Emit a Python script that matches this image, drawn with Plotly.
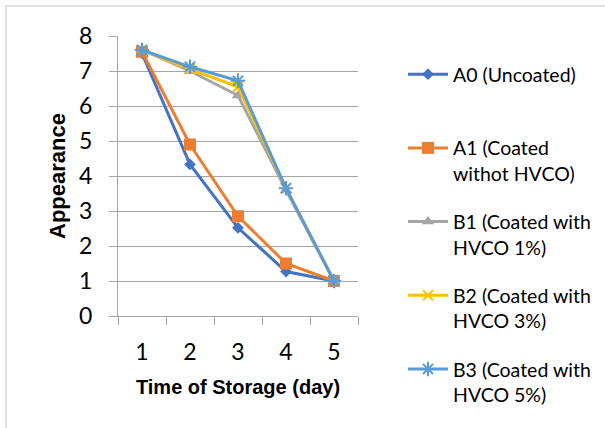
import plotly.graph_objects as go

days = ["1", "2", "3", "4", "5"]
a0 = [7.5, 4.33, 2.52, 1.27, 1.0]
a1 = [7.55, 4.9, 2.85, 1.5, 1.0]
b1 = [7.6, 7.0, 6.3, 3.6, 1.0]
b2 = [7.6, 7.05, 6.55, 3.65, 1.0]
b3 = [7.6, 7.12, 6.72, 3.65, 1.0]

names = ["A0 (Uncoated)<br> ", "A1 (Coated<br>withot HVCO)", "B1 (Coated with<br>HVCO 1%)",
         "B2 (Coated with<br>HVCO 3%)", "B3 (Coated with<br>HVCO 5%)"]
colors = ["#4472C4", "#ED7D31", "#A5A5A5", "#FFC000", "#5B9BD5"]
symbols = ["diamond", "square", "triangle-up", "x-thin", "asterisk"]
sizes = [9, 12, 11, 10, 12]
series = [a0, a1, b1, b2, b3]

fig = go.Figure()
for i, (vals, nm, c, s, sz) in enumerate(zip(series, names, colors, symbols, sizes)):
    thin = s in ("x-thin", "asterisk")
    fig.add_trace(go.Scatter(
        x=days, y=vals, name=nm, mode="lines+markers",
        line=dict(color=c, width=3),
        marker=dict(symbol=s, size=sz, color=c,
                    line=dict(color=c, width=2 if thin else 0)),
        legendgroup=str(i),
    ))

W, H = 605, 428
L, R, T, B = 118, 358, 36, 316
def px2x(p):
    return (p - L) / (R - L)
def py2y(p):
    return (B - p) / (B - T)

grid = "#A6A6A6"
fig.update_layout(
    width=W, height=H,
    margin=dict(l=L, r=W - R, t=T, b=H - B, pad=0, autoexpand=False),
    paper_bgcolor="white", plot_bgcolor="white",
    font=dict(family="Lato, Noto Sans, sans-serif", color="black"),
    showlegend=True,
    legend=dict(x=px2x(403), y=py2y(55), xanchor="left", yanchor="top",
                font=dict(size=19.5, family="Lato, Noto Sans, sans-serif"),
                valign="top", tracegroupgap=20, bgcolor="rgba(0,0,0,0)",
                itemwidth=40, maxheight=400),
    xaxis=dict(type="category", range=[-0.5, 4.5], showgrid=False, showline=True,
               linecolor=grid, linewidth=1,
               ticks="outside", ticklen=8, tickcolor=grid, tickson="boundaries",
               tickfont=dict(size=23), ticklabelstandoff=15,
               title=dict(text="<b>Time of Storage (day)</b>",
                          font=dict(size=20, family="Liberation Sans, Arial, sans-serif"),
                          standoff=16)),
    yaxis=dict(range=[0, 8], dtick=1, showgrid=True, gridcolor=grid, gridwidth=1,
               showline=True, linecolor=grid, linewidth=1, zeroline=False,
               ticks="outside", ticklen=8, tickcolor=grid,
               tickfont=dict(size=23), ticklabelstandoff=12,
               title=dict(text="<b>Appearance</b>",
                          font=dict(size=22, family="Liberation Sans, Arial, sans-serif"),
                          standoff=7)),
    shapes=[dict(type="rect", xref="paper", yref="paper",
                 x0=px2x(6), x1=px2x(620), y0=py2y(440), y1=py2y(6),
                 line=dict(color="#BFBFBF", width=1), fillcolor="rgba(0,0,0,0)", layer="below")],
)

fig.write_html("out.html", config={"displayModeBar": False},
               post_script="document.body.style.margin='0px';")
